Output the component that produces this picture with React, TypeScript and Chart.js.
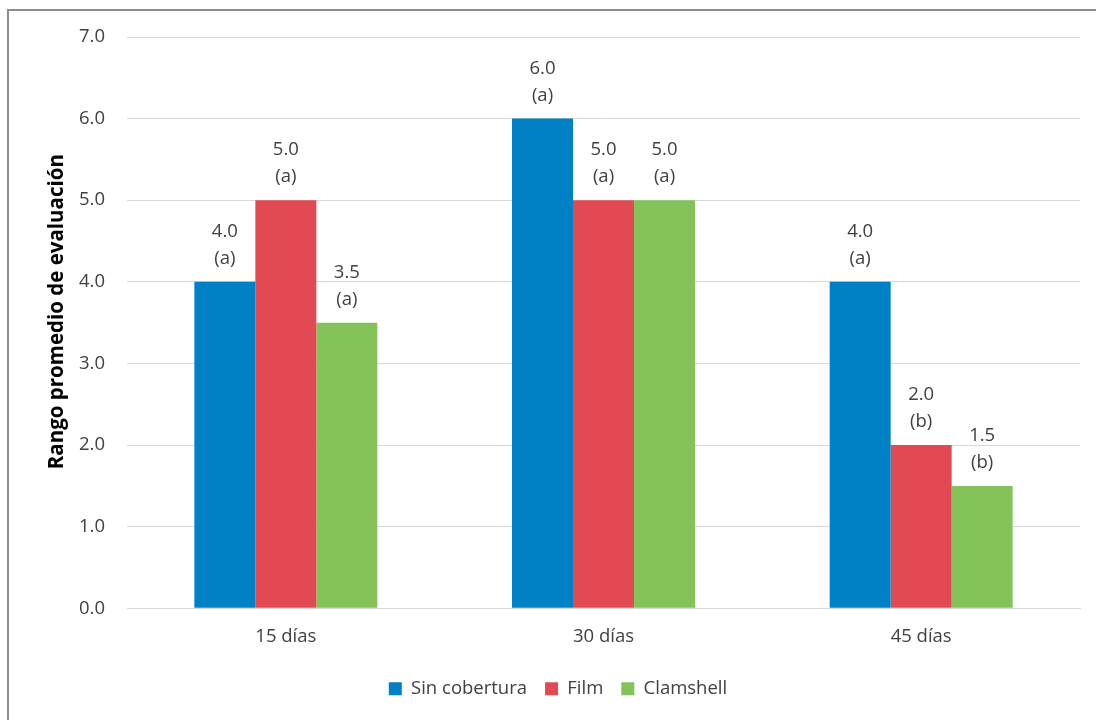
import React, { useEffect, useRef } from "react";
import { Chart, registerables } from "chart.js";

Chart.register(...registerables);

const categories = ["15 días", "30 días", "45 días"];
const seriesNames = ["Sin cobertura", "Film", "Clamshell"];
const sinCobertura = [4.0, 6.0, 4.0];
const film = [5.0, 5.0, 2.0];
const clamshell = [3.5, 5.0, 1.5];
const sinLetters = ["(a)", "(a)", "(a)"];
const filmLetters = ["(a)", "(a)", "(b)"];
const clamLetters = ["(a)", "(a)", "(b)"];
const colors = ["#0081C6", "#E24A53", "#83C35A"];
const yTicks = [0, 1, 2, 3, 4, 5, 6, 7];
const yTitle = "Rango promedio de evaluación";

const FONT = "'Open Sans', sans-serif";
const TEXT = "#404040";
const FS = 18.5;

const labelPlugin = {
  id: "twoLineLabels",
  afterDatasetsDraw(chart: any) {
    const ctx = chart.ctx;
    const letters = [sinLetters, filmLetters, clamLetters];
    ctx.save();
    ctx.font = `${FS}px ${FONT}`;
    ctx.fillStyle = TEXT;
    ctx.textAlign = "center";
    ctx.textBaseline = "middle";
    chart.data.datasets.forEach((ds: any, i: number) => {
      const meta = chart.getDatasetMeta(i);
      meta.data.forEach((bar: any, j: number) => {
        const v = ds.data[j] as number;
        ctx.fillText(v.toFixed(1), bar.x, bar.y - 50);
        ctx.fillText(letters[i][j], bar.x, bar.y - 23);
      });
    });
    ctx.restore();
  },
};

const titlePlugin = {
  id: "yTitle",
  afterDraw(chart: any) {
    const ctx = chart.ctx;
    const area = chart.chartArea;
    ctx.save();
    ctx.translate(57, (area.top + area.bottom) / 2 - 11);
    ctx.rotate(-Math.PI / 2);
    ctx.font = `bold 20.5px ${FONT}`;
    ctx.fillStyle = "#000000";
    ctx.textAlign = "center";
    ctx.textBaseline = "middle";
    ctx.fillText(yTitle, 0, 0);
    ctx.restore();
  },
};

export default function App() {
  const ref = useRef<HTMLCanvasElement | null>(null);
  useEffect(() => {
    if (!ref.current) return;
    const chart = new Chart(ref.current, {
      type: "bar",
      data: {
        labels: categories,
        datasets: [
          { label: seriesNames[0], data: sinCobertura, backgroundColor: colors[0] },
          { label: seriesNames[1], data: film, backgroundColor: colors[1] },
          { label: seriesNames[2], data: clamshell, backgroundColor: colors[2] },
        ],
      },
      options: {
        animation: false,
        responsive: false,
        layout: { padding: { left: 36, top: 37, right: 16, bottom: 12 } },
        datasets: { bar: { categoryPercentage: 0.576, barPercentage: 1.0 } },
        plugins: {
          legend: {
            position: "bottom",
            labels: {
              font: { family: FONT, size: FS },
              color: TEXT,
              boxWidth: 13,
              boxHeight: 13,
              padding: 18,
            },
          },
          tooltip: { enabled: false },
        },
        scales: {
          x: {
            grid: { display: false, drawTicks: false },
            border: { display: true, color: "#d9d9d9", width: 1 },
            ticks: { font: { family: FONT, size: FS }, color: TEXT, padding: 17 },
            afterFit: (scale: any) => {
              scale.height = scale.height - 3;
            },
          },
          y: {
            min: 0,
            max: 7,
            afterBuildTicks: (scale: any) => {
              scale.ticks = yTicks.map((v) => ({ value: v }));
            },
            afterFit: (scale: any) => {
              scale.width = 91;
            },
            grid: { color: "#d9d9d9", lineWidth: 1, drawTicks: false },
            border: { display: false },
            ticks: {
              font: { family: FONT, size: FS },
              color: TEXT,
              padding: 22,
              callback: (v: any) => Number(v).toFixed(1),
            },
          },
        },
      },
      plugins: [labelPlugin, titlePlugin],
    });
    return () => chart.destroy();
  }, []);
  return (
    <div style={{ position: "fixed", left: 0, top: 0, width: 1096, height: 720, background: "#fff" }}>
      <canvas ref={ref} width={1096} height={720} style={{ position: "absolute", left: 0, top: 0 }} />
      <div
        style={{
          position: "absolute",
          left: 7,
          top: 9,
          width: 1200,
          height: 800,
          borderLeft: "2px solid #8c8c8c",
          borderTop: "2px solid #8c8c8c",
          boxSizing: "border-box",
          pointerEvents: "none",
        }}
      />
    </div>
  );
}
